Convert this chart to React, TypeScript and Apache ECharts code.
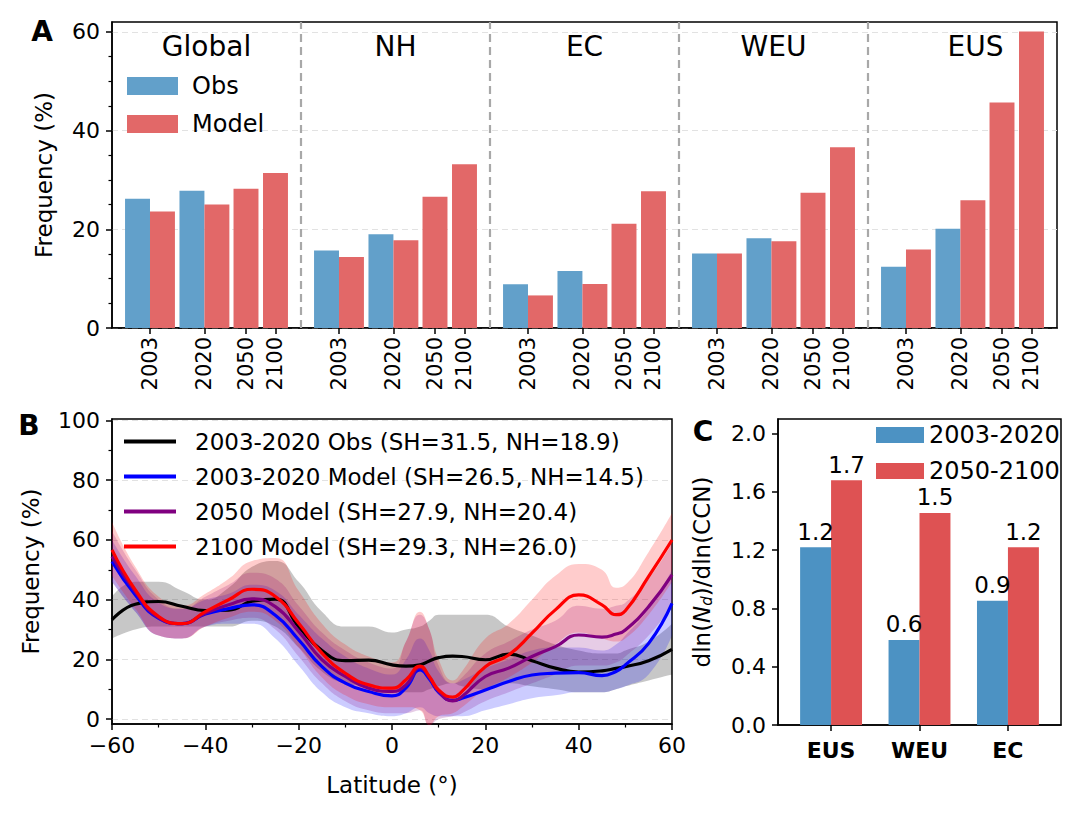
import React, { useEffect, useRef } from "react";
import * as echarts from "echarts";

const FONT = "DejaVu Sans";

// ---------- Panel A data ----------
const regions = ["Global", "NH", "EC", "WEU", "EUS"];
const yearLabels = ["2003", "2020", "2050", "2100"];
const obsA2003 = [26.2, 15.7, 8.85, 15.1, 12.4];
const obsA2020 = [27.8, 19.0, 11.55, 18.2, 20.1];
const modelA2003 = [23.6, 14.4, 6.6, 15.1, 15.9];
const modelA2020 = [25.0, 17.8, 8.9, 17.6, 25.9];
const modelA2050 = [28.2, 26.6, 21.1, 27.4, 45.7];
const modelA2100 = [31.4, 33.2, 27.7, 36.6, 60.1];
const yMajorA = [0, 20, 40, 60];
const yMinorA = [5, 10, 15, 25, 30, 35, 45, 50, 55];

// ---------- Panel B data ----------
const lat = [-60, -55, -50, -45, -40, -35, -30, -25, -20, -15, -10, -5, 0, 3, 6, 8, 10, 13, 15, 20, 25, 30, 35, 40, 45, 48, 50, 55, 60];
const obsMean = [33.3, 38.5, 39.4, 37.8, 36.4, 36.5, 39.5, 40.2, 31.0, 23.0, 19.6, 19.8, 18.2, 17.8, 18.2, 19.5, 20.6, 21.1, 21.0, 19.9, 21.8, 19.6, 17.1, 15.8, 16.2, 17.0, 17.6, 19.6, 23.4];
const obsLow = [27, 30, 31, 31, 31, 31, 33, 31, 24, 16, 12, 11, 9, 9, 9, 10, 11, 12, 11, 10, 12, 11, 10, 9, 9, 10, 11, 13, 15];
const obsHigh = [41, 46, 46, 43, 40, 44, 51, 53, 46, 36, 31, 31, 29, 30, 31, 33, 35, 35, 35, 35, 31, 28, 25, 23, 22, 22, 23, 26, 32];
const blueMean = [52.8, 41.6, 33.8, 32.0, 35.2, 37.0, 38.3, 34.8, 26.6, 17.6, 12.1, 9.3, 7.8, 10.5, 16.5, 13.5, 9.0, 6.3, 7.0, 9.8, 12.6, 14.8, 15.4, 15.6, 14.6, 16.0, 18.2, 25.4, 38.8];
const blueLow = [46, 36, 28, 27, 31, 32, 32, 27, 18, 9, 4, 2, 1, 2, 4, 2, 1, 1, 1, 3, 5, 7, 8, 9, 9, 10, 11, 15, 28];
const blueHigh = [60, 48, 39, 37, 40, 42, 45, 43, 35, 27, 21, 17, 15, 20, 27, 23, 16, 12, 13, 17, 20, 23, 24, 24, 23, 25, 28, 37, 50];
const purpleMean = [54.5, 42.7, 34.0, 32.0, 35.5, 38.3, 40.3, 37.7, 29.4, 19.9, 14.3, 10.4, 9.3, 11.5, 17.3, 14.0, 9.3, 6.1, 7.6, 14.3, 17.1, 21.0, 24.3, 28.2, 27.5, 28.5, 29.9, 37.7, 48.3];
const purpleLow = [46, 36, 28, 27, 31, 33, 34, 30, 21, 12, 6, 3, 2, 2, 3, -2, 0, 1, 2, 6, 9, 12, 15, 18, 18, 19, 21, 28, 38];
const purpleHigh = [63, 50, 40, 37, 41, 45, 49, 47, 38, 29, 23, 19, 17, 26, 35, 30, 18, 12, 14, 22, 26, 30, 33, 38, 37, 38, 39, 47, 59];
const redMean = [56.7, 43.3, 34.4, 32.0, 36.0, 40.0, 43.5, 41.1, 32.1, 22.1, 15.4, 11.5, 10.4, 13.2, 17.8, 14.3, 9.8, 7.4, 9.3, 17.6, 21.5, 28.8, 36.6, 41.6, 38.3, 35.0, 36.3, 47.8, 60.0];
const redLow = [48, 37, 28, 27, 31, 34, 36, 33, 24, 14, 8, 5, 4, 4, 3, -2, 1, 2, 4, 10, 14, 19, 25, 29, 27, 26, 27, 35, 46];
const redHigh = [66, 51, 41, 38, 42, 47, 53, 54, 43, 32, 25, 21, 19, 26, 36, 30, 20, 13, 16, 27, 32, 40, 48, 52, 50, 44, 45, 56, 69];
const namesB = [
  "2003-2020 Obs (SH=31.5, NH=18.9)",
  "2003-2020 Model (SH=26.5, NH=14.5)",
  "2050 Model (SH=27.9, NH=20.4)",
  "2100 Model (SH=29.3, NH=26.0)",
];
const yMajorB = [0, 20, 40, 60, 80, 100];
const yMinorB = [10, 30, 50, 70, 90];

// ---------- Panel C data ----------
const cRegions = ["EUS", "WEU", "EC"];
const cPresent = [1.22, 0.584, 0.852];
const cFuture = [1.68, 1.455, 1.219];
const cNames = ["2003-2020", "2050-2100"];
const yMajorC = [0, 0.4, 0.8, 1.2, 1.6, 2.0];

// ---------- Layout / style ----------
const gridA = { left: 112, top: 22, width: 945, height: 306 };
const gridB = { left: 112, top: 419, width: 560, height: 305 };
const gridC = { left: 778, top: 419, width: 283, height: 306 };
const slotFrac = [0.201, 0.489, 0.709, 0.865];
const barFracA = 0.132;
const barFracC = 0.35;
const cMin = -0.6, cMax = 2.6;
const titleShift = [0, 0, 0, 0, 13];
const SMOOTH = 0.5;

const colObsA = "#62A0CA";
const colModA = "#E26868";
const colObsC = "#4C92C3";
const colModC = "#DE5253";
const lineCols = ["#000000", "#0000FF", "#800080", "#FF0000"];
const bandCols = ["rgba(0,0,0,0.22)", "rgba(0,0,255,0.2)", "rgba(128,0,128,0.2)", "rgba(255,0,0,0.2)"];

function buildOption() {
  const groupW = gridA.width / regions.length;
  const tickPosA = regions.flatMap((_, g) => slotFrac.map((s) => g + s));
  const obsData = regions.flatMap((_, g) => [
    [g + slotFrac[0] - barFracA / 2, obsA2003[g]],
    [g + slotFrac[1] - barFracA / 2, obsA2020[g]],
  ]);
  const modData = regions.flatMap((_, g) => [
    [g + slotFrac[0] + barFracA / 2, modelA2003[g]],
    [g + slotFrac[1] + barFracA / 2, modelA2020[g]],
    [g + slotFrac[2], modelA2050[g]],
    [g + slotFrac[3], modelA2100[g]],
  ]);
  const barWA = barFracA * groupW;
  const barWC = (barFracC * gridC.width) / (cMax - cMin);

  const axisLine = { show: true, onZero: false, lineStyle: { color: "#000", width: 1.5 } };
  const tickStyle = { color: "#000", width: 1.5 };
  const labelBase = { color: "#000", fontFamily: FONT, fontSize: 21 };
  const splitDash = { show: true, lineStyle: { color: "#e2e2e2", type: [6, 4], width: 1 } };

  const yearOf = (v: number) => {
    const g = Math.floor(v + 1e-9);
    const r = v - g;
    let best = 0;
    slotFrac.forEach((s, k) => {
      if (Math.abs(s - r) < Math.abs(slotFrac[best] - r)) best = k;
    });
    return yearLabels[best];
  };

  const bands = [
    [obsLow, obsHigh],
    [blueLow, blueHigh],
    [purpleLow, purpleHigh],
    [redLow, redHigh],
  ];
  const means = [obsMean, blueMean, purpleMean, redMean];

  // Band = lower line (invisible) + stacked difference with area fill.
  // Data rows are [value, latitude] so the stacked dimension is the value.
  const bandSeries: any[] = [];
  bands.forEach(([lo, hi], i) => {
    bandSeries.push({
      type: "line",
      name: "band-lo-" + i,
      xAxisIndex: 1,
      yAxisIndex: 2,
      stack: "band" + i,
      stackStrategy: "all",
      encode: { x: 1, y: 0 },
      data: lat.map((x, j) => [lo[j], x]),
      symbol: "none",
      smooth: SMOOTH,
      lineStyle: { opacity: 0 },
      silent: true,
      z: 1,
    });
    bandSeries.push({
      type: "line",
      name: "band-hi-" + i,
      xAxisIndex: 1,
      yAxisIndex: 2,
      stack: "band" + i,
      stackStrategy: "all",
      encode: { x: 1, y: 0 },
      data: lat.map((x, j) => [hi[j] - lo[j], x]),
      symbol: "none",
      smooth: SMOOTH,
      lineStyle: { opacity: 0 },
      areaStyle: { color: bandCols[i], opacity: 1 },
      silent: true,
      z: 1,
    });
  });

  const lineSeries = means.map((m, i) => ({
    type: "line",
    name: namesB[i],
    xAxisIndex: 1,
    yAxisIndex: 2,
    data: lat.map((x, j) => [x, m[j]]),
    symbol: "none",
    smooth: SMOOTH,
    lineStyle: { color: lineCols[i], width: 3.2 },
    itemStyle: { color: lineCols[i] },
    z: 3,
  }));

  const graphicTexts: any[] = [
    { type: "text", x: 42, y: 31, style: { text: "A", fontFamily: FONT, fontWeight: "bold", fontSize: 28, fill: "#000", textAlign: "center", textVerticalAlign: "middle" } },
    { type: "text", x: 29, y: 425, style: { text: "B", fontFamily: FONT, fontWeight: "bold", fontSize: 28, fill: "#000", textAlign: "center", textVerticalAlign: "middle" } },
    { type: "text", x: 703, y: 431, style: { text: "C", fontFamily: FONT, fontWeight: "bold", fontSize: 28, fill: "#000", textAlign: "center", textVerticalAlign: "middle" } },
  ];
  regions.forEach((r, g) => {
    graphicTexts.push({
      type: "text",
      x: gridA.left + (g + 0.5) * groupW + titleShift[g],
      y: 46,
      style: { text: r, fontFamily: FONT, fontSize: 28, fill: "#000", textAlign: "center", textVerticalAlign: "middle" },
    });
  });

  return {
    animation: false,
    backgroundColor: "#fff",
    textStyle: { fontFamily: FONT },
    grid: [
      { ...gridA, show: true, borderColor: "#000", borderWidth: 1.5, backgroundColor: "transparent" },
      { ...gridB, show: true, borderColor: "#000", borderWidth: 1.5, backgroundColor: "transparent" },
      { ...gridC, show: true, borderColor: "#000", borderWidth: 1.5, backgroundColor: "transparent" },
    ],
    legend: [
      {
        data: ["Obs", "Model"],
        orient: "vertical",
        left: 127,
        top: 74,
        padding: 0,
        itemWidth: 51,
        itemHeight: 18,
        itemGap: 14,
        icon: "rect",
        textStyle: { color: "#000", fontFamily: FONT, fontSize: 24, padding: [0, 0, 0, 9] },
        selectedMode: false,
      },
      {
        data: namesB,
        orient: "vertical",
        left: 124,
        top: 430,
        padding: 0,
        itemWidth: 52,
        itemHeight: 4,
        itemGap: 12,
        icon: "rect",
        textStyle: { color: "#000", fontFamily: FONT, fontSize: 23, padding: [0, 0, 0, 14] },
        selectedMode: false,
      },
      {
        data: cNames,
        orient: "vertical",
        left: 876,
        top: 423,
        padding: 0,
        itemWidth: 48,
        itemHeight: 16,
        itemGap: 12,
        icon: "rect",
        textStyle: { color: "#000", fontFamily: FONT, fontSize: 24 },
        selectedMode: false,
      },
    ],
    xAxis: [
      {
        gridIndex: 0,
        type: "value",
        min: 0,
        max: regions.length,
        axisLine,
        axisTick: { show: true, customValues: tickPosA, length: 6, lineStyle: tickStyle },
        axisLabel: { ...labelBase, customValues: tickPosA, rotate: 90, margin: 9, formatter: (v: number) => yearOf(v) },
        splitLine: { show: false },
      },
      {
        gridIndex: 1,
        type: "value",
        min: -60,
        max: 60,
        interval: 20,
        axisLine,
        axisTick: { show: true, length: 6, lineStyle: tickStyle },
        minorTick: { show: true, splitNumber: 2, length: 3.5, lineStyle: { color: "#000", width: 1.2 } },
        axisLabel: { ...labelBase, fontSize: 22, margin: 10, formatter: (v: number) => (v < 0 ? "\u2212" + Math.abs(v) : String(v)) },
        splitLine: { show: false },
        name: "Latitude (\u00b0)",
        nameLocation: "middle",
        nameGap: 49,
        nameTextStyle: { color: "#000", fontFamily: FONT, fontSize: 23 },
      },
      {
        gridIndex: 2,
        type: "value",
        min: cMin,
        max: cMax,
        axisLine,
        axisTick: { show: true, customValues: [0, 1, 2], length: 6, lineStyle: tickStyle },
        axisLabel: { ...labelBase, fontSize: 22, fontWeight: "bold", customValues: [0, 1, 2], margin: 14, formatter: (v: number) => cRegions[Math.round(v)] ?? "" },
        splitLine: { show: false },
      },
    ],
    yAxis: [
      {
        gridIndex: 0,
        type: "value",
        min: 0,
        max: 62,
        minInterval: 20,
        maxInterval: 20,
        axisLine,
        axisTick: { show: true, customValues: yMajorA, length: 6, lineStyle: tickStyle },
        axisLabel: { ...labelBase, fontSize: 22, margin: 12, customValues: yMajorA },
        splitLine: splitDash,
        name: "Frequency (%)",
        nameLocation: "middle",
        nameRotate: 90,
        nameGap: 57,
        nameTextStyle: { color: "#000", fontFamily: FONT, fontSize: 23 },
      },
      {
        gridIndex: 0,
        type: "value",
        min: 0,
        max: 62,
        position: "left",
        axisLine: { show: false, onZero: false },
        axisTick: { show: true, customValues: yMinorA, length: 3.5, lineStyle: { color: "#000", width: 1.2 } },
        axisLabel: { show: false },
        splitLine: { show: false },
      },
      {
        gridIndex: 1,
        type: "value",
        min: -1.6,
        max: 100.5,
        minInterval: 20,
        maxInterval: 20,
        axisLine,
        axisTick: { show: true, customValues: yMajorB, length: 6, lineStyle: tickStyle },
        axisLabel: { ...labelBase, fontSize: 22, margin: 12, customValues: yMajorB },
        splitLine: splitDash,
        name: "Frequency (%)",
        nameLocation: "middle",
        nameRotate: 90,
        nameGap: 70,
        nameTextStyle: { color: "#000", fontFamily: FONT, fontSize: 23 },
      },
      {
        gridIndex: 1,
        type: "value",
        min: -1.6,
        max: 100.5,
        position: "left",
        axisLine: { show: false, onZero: false },
        axisTick: { show: true, customValues: yMinorB, length: 3.5, lineStyle: { color: "#000", width: 1.2 } },
        axisLabel: { show: false },
        splitLine: { show: false },
      },
      {
        gridIndex: 2,
        type: "value",
        min: 0,
        max: 2.1,
        minInterval: 0.4,
        maxInterval: 0.4,
        axisLine,
        axisTick: { show: true, customValues: yMajorC, length: 6, lineStyle: tickStyle },
        axisLabel: { ...labelBase, fontSize: 22, margin: 12, customValues: yMajorC, formatter: (v: number) => v.toFixed(1) },
        splitLine: { show: false },
        name: "{a|dln(}{b|N}{c|d}{a|)/dln(CCN)}",
        nameLocation: "middle",
        nameRotate: 90,
        nameGap: 64,
        nameTextStyle: {
          color: "#000",
          fontFamily: FONT,
          fontSize: 23,
          rich: {
            a: { fontFamily: FONT, fontSize: 23, color: "#000" },
            b: { fontFamily: FONT, fontSize: 23, fontStyle: "italic", color: "#000" },
            c: { fontFamily: FONT, fontSize: 15, fontStyle: "italic", color: "#000", padding: [10, 0, 0, 0] },
          },
        },
      },
    ],
    series: [
      {
        type: "bar",
        name: "Obs",
        xAxisIndex: 0,
        yAxisIndex: 0,
        data: obsData,
        barWidth: barWA,
        barGap: "-100%",
        itemStyle: { color: colObsA },
        markLine: {
          silent: true,
          symbol: ["none", "none"],
          label: { show: false },
          lineStyle: { color: "#a8a8a8", type: [8, 5], width: 2.2 },
          data: regions.slice(1).map((_, g) => ({ xAxis: g + 1 })),
        },
      },
      {
        type: "bar",
        name: "Model",
        xAxisIndex: 0,
        yAxisIndex: 0,
        data: modData,
        barWidth: barWA,
        barGap: "-100%",
        itemStyle: { color: colModA },
      },
      ...bandSeries,
      ...lineSeries,
      {
        type: "bar",
        name: cNames[0],
        xAxisIndex: 2,
        yAxisIndex: 4,
        data: cPresent.map((v, i) => [i - barFracC / 2, v]),
        barWidth: barWC,
        barGap: "-100%",
        itemStyle: { color: colObsC },
        label: { show: true, position: "top", distance: 4, color: "#000", fontFamily: FONT, fontSize: 23, formatter: (p: any) => p.value[1].toFixed(1) },
      },
      {
        type: "bar",
        name: cNames[1],
        xAxisIndex: 2,
        yAxisIndex: 4,
        data: cFuture.map((v, i) => [i + barFracC / 2, v]),
        barWidth: barWC,
        barGap: "-100%",
        itemStyle: { color: colModC },
        label: { show: true, position: "top", distance: 4, color: "#000", fontFamily: FONT, fontSize: 23, formatter: (p: any) => p.value[1].toFixed(1) },
      },
    ],
    graphic: graphicTexts,
  };
}

export default function App() {
  const ref = useRef<HTMLDivElement>(null);
  useEffect(() => {
    if (!ref.current) return;
    const chart = echarts.init(ref.current, undefined, { renderer: "svg" });
    chart.setOption(buildOption() as any);
    return () => chart.dispose();
  }, []);
  return (
    <div
      ref={ref}
      style={{ position: "fixed", left: 0, top: 0, width: 1080, height: 813, background: "#fff" }}
    />
  );
}
